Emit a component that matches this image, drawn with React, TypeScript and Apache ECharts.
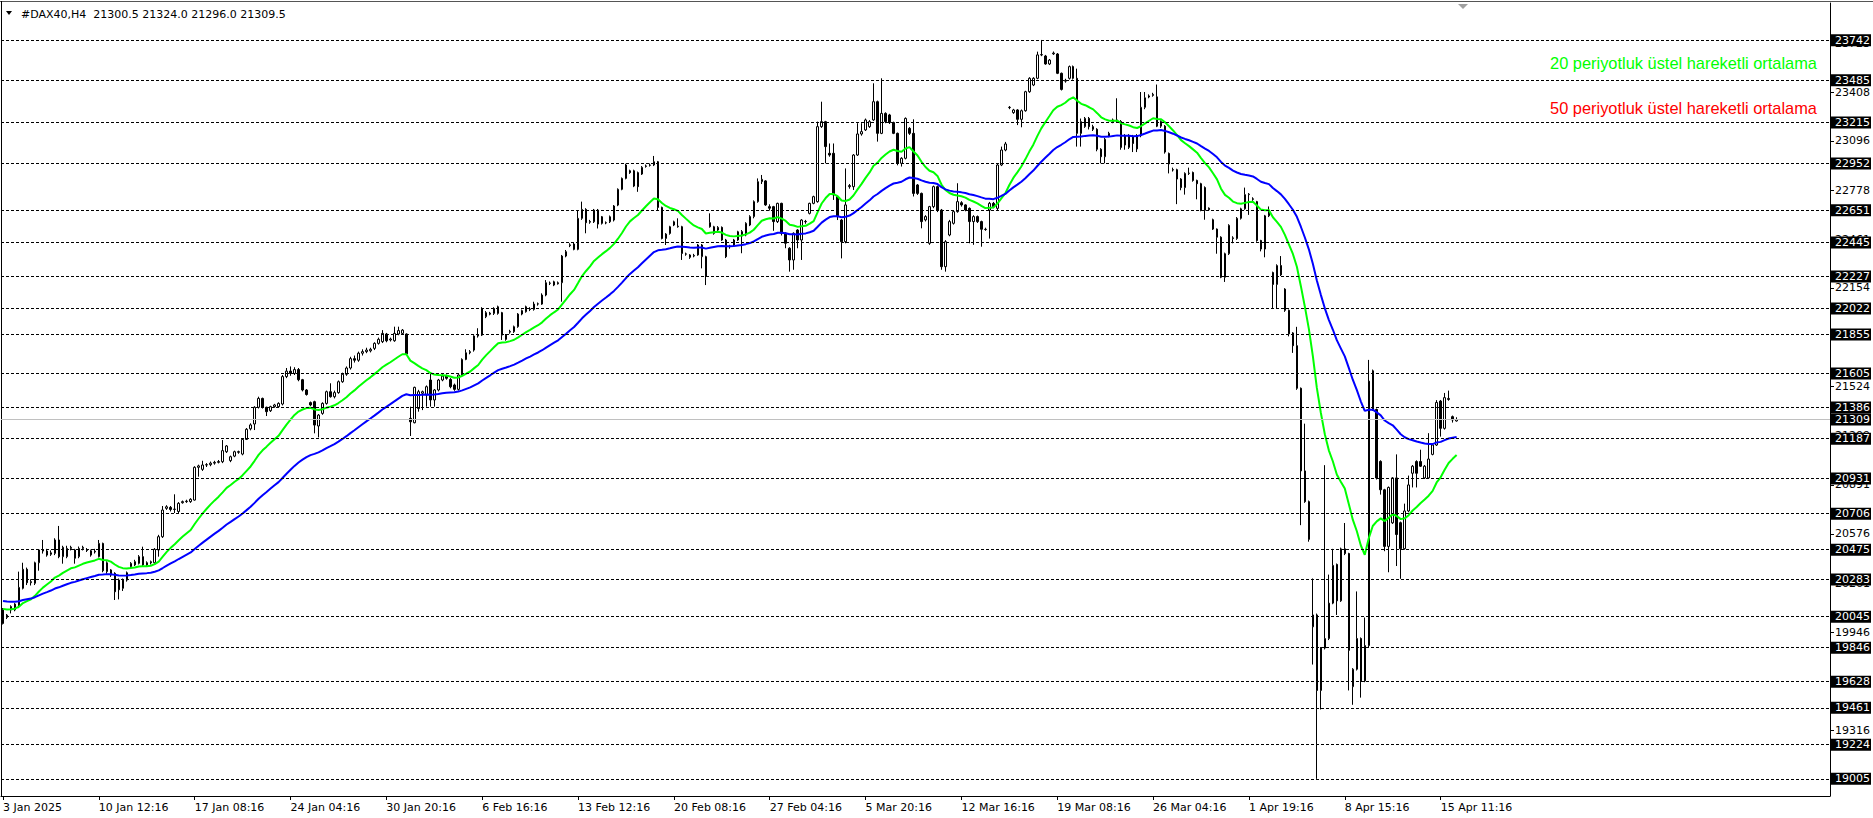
import React, { useEffect, useRef } from "react";
import * as echarts from "echarts";

const opens = [20090,20040,20088,20088,20110,20227,20349,20263,20259,20391,20473,20466,20445,20451,20537,20430,20430,20483,20473,20430,20483,20475,20440,20460,20430,20515,20334,20345,20323,20280,20227,20280,20366,20377,20387,20430,20391,20390,20391,20473,20558,20740,20746,20733,20720,20776,20783,20783,20793,21003,20990,21018,21020,21030,21035,21039,21103,21046,21075,21103,21088,21182,21250,21281,21388,21445,21388,21366,21392,21392,21409,21585,21620,21605,21630,21565,21499,21418,21424,21268,21349,21413,21488,21456,21482,21552,21600,21640,21700,21690,21735,21745,21750,21766,21798,21809,21858,21820,21815,21858,21862,21858,21317,21289,21380,21478,21467,21563,21435,21499,21563,21588,21567,21531,21503,21595,21695,21738,21755,21845,21851,21969,21985,21990,21990,21995,21851,21870,21873,21905,21986,22001,22018,22016,22050,22050,22108,22183,22193,22180,22187,22358,22425,22435,22401,22600,22657,22575,22578,22653,22610,22570,22578,22589,22685,22786,22856,22905,22905,22893,22884,22933,22940,22942,22963,22670,22471,22503,22557,22546,22546,22370,22365,22358,22365,22354,22354,22572,22503,22525,22542,22461,22420,22429,22461,22487,22493,22557,22611,22707,22835,22840,22675,22675,22579,22696,22504,22408,22333,22525,22461,22580,22632,22696,22707,23188,23220,23017,23017,22739,22589,22450,22803,22803,23006,23141,23167,23188,23231,23348,23145,23273,23263,23214,23145,22953,22985,23177,23145,22814,22760,22590,22440,22675,22803,22653,22290,22493,22568,22643,22700,22686,22664,22579,22611,22579,22530,22653,22696,22664,22942,23038,23310,23278,23295,23235,23290,23412,23455,23498,23648,23641,23590,23655,23654,23530,23480,23498,23573,23498,23220,23188,23241,23188,23171,23043,22995,23128,23220,23231,23221,23070,23055,23125,23045,23130,23312,23378,23388,23379,23191,23191,23016,22912,22912,22852,22797,22888,22894,22843,22822,22797,22655,22591,22531,22479,22222,22373,22470,22470,22600,22661,22752,22725,22707,22458,22403,22616,22252,22176,22297,22146,22010,21865,21783,21510,20980,20783,19980,20056,19572,19844,19905,20132,20380,20147,20480,20450,19596,19708,19905,19633,19860,21622,21374,21041,20859,20496,20647,20935,20648,20481,20723,20965,21040,21040,20935,20935,21086,21146,21428,21253,21438,21328,21300.5];
const highs = [20100,20062,20118,20132,20334,20391,20360,20285,20398,20477,20537,20480,20470,20548,20627,20500,20500,20500,20480,20495,20500,20485,20475,20480,20537,20520,20400,20350,20330,20290,20290,20335,20395,20410,20440,20494,20400,20405,20485,20570,20755,20760,20755,20830,20780,20790,20795,20805,21010,21020,21045,21030,21040,21045,21050,21178,21146,21078,21110,21110,21190,21255,21285,21395,21456,21450,21392,21398,21410,21420,21595,21640,21650,21645,21640,21570,21505,21425,21430,21345,21420,21495,21542,21495,21560,21610,21650,21712,21720,21745,21760,21770,21770,21805,21835,21883,21865,21835,21905,21905,21890,21862,21392,21520,21500,21495,21528,21605,21505,21570,21600,21598,21575,21540,21600,21702,21760,21755,21850,21895,22030,22005,22000,22030,22040,22000,21858,21885,21912,21992,22015,22040,22030,22065,22060,22119,22204,22195,22200,22195,22365,22397,22440,22442,22653,22707,22665,22590,22660,22660,22615,22580,22618,22685,22792,22862,22950,22912,22912,22900,22935,22945,22952,23000,22968,22675,22505,22552,22585,22600,22552,22380,22370,22372,22435,22435,22360,22632,22552,22550,22548,22468,22430,22468,22520,22525,22575,22620,22715,22856,22878,22845,22690,22680,22700,22700,22510,22415,22510,22530,22595,22590,22700,22745,23220,23348,23225,23080,23080,22745,22595,22920,22820,23012,23210,23210,23240,23230,23466,23355,23498,23280,23270,23220,23150,22992,23247,23185,23235,22820,22765,22620,22680,22810,22810,22660,22460,22590,22650,22825,22710,22690,22670,22620,22618,22585,22540,22705,22705,22950,23060,23090,23320,23302,23300,23298,23418,23505,23505,23669,23744,23648,23622,23670,23660,23535,23495,23580,23580,23560,23240,23250,23250,23200,23178,23050,23115,23155,23240,23370,23230,23140,23140,23135,23140,23410,23410,23395,23405,23458,23228,23198,23022,22925,22918,22858,22895,22925,22900,22848,22828,22805,22670,22598,22535,22485,22380,22562,22485,22608,22668,22797,22762,22735,22712,22462,22622,22676,22258,22305,22358,22152,22015,21870,21904,21515,21283,20790,20290,20065,19850,21017,20315,20480,20386,20488,20646,20455,19715,20207,19912,20040,21692,21630,21380,21048,20865,20880,20940,21086,20655,20770,20950,21018,21048,21116,21018,21222,21152,21434,21435,21480,21495,21335,21324];
const lows = [19995,20030,20066,20080,20100,20220,20248,20245,20248,20340,20450,20430,20435,20440,20420,20385,20420,20470,20385,20420,20470,20460,20430,20450,20425,20330,20320,20300,20152,20156,20210,20270,20355,20370,20380,20370,20365,20380,20380,20430,20550,20730,20720,20710,20705,20770,20775,20775,20790,20943,20980,21005,21010,21020,21028,21030,21095,21036,21068,21090,21080,21178,21240,21242,21380,21380,21332,21358,21385,21385,21400,21575,21590,21595,21555,21490,21463,21395,21221,21195,21340,21405,21450,21445,21475,21545,21590,21630,21675,21680,21720,21735,21740,21755,21790,21800,21805,21810,21808,21850,21855,21725,21204,21285,21360,21370,21392,21392,21392,21490,21555,21565,21510,21494,21495,21590,21690,21728,21745,21835,21845,21960,21978,21980,21982,21820,21815,21860,21865,21898,21978,21995,22005,22008,22040,22045,22100,22172,22165,22175,22065,22350,22415,22395,22395,22590,22504,22565,22570,22535,22560,22562,22570,22580,22678,22780,22850,22885,22800,22770,22878,22925,22932,22935,22653,22465,22429,22495,22550,22540,22333,22360,22340,22350,22360,22279,22172,22540,22495,22515,22455,22345,22405,22420,22455,22376,22485,22550,22600,22700,22820,22680,22650,22520,22570,22490,22408,22258,22270,22408,22333,22565,22625,22690,22700,23180,22953,22995,22718,22589,22343,22440,22790,22782,23000,23130,23160,23180,23225,23092,23140,23210,23205,23140,22940,22932,22978,23135,22740,22750,22536,22580,22430,22665,22640,22270,22258,22485,22560,22636,22675,22645,22440,22430,22570,22418,22520,22470,22665,22650,22935,23030,23300,23270,23198,23184,23284,23405,23448,23492,23640,23585,23583,23648,23525,23420,23470,23490,23490,23060,23060,23180,23170,23160,23030,22953,22953,23120,23210,23215,23040,23040,23045,23025,23025,23120,23300,23370,23380,23185,23180,23015,22888,22900,22691,22780,22752,22878,22835,22722,22645,22591,22650,22525,22373,22216,22192,22365,22440,22462,22592,22655,22622,22712,22450,22388,22350,22608,22025,22025,22230,22000,21843,21737,21500,20632,20775,20526,19738,19005,19450,19835,19895,20125,20056,20140,20440,19572,19480,19700,19526,19625,19850,21365,20925,20828,20465,20330,20640,20370,20288,20475,20715,20874,20874,21005,20928,20930,21080,21140,21200,21245,21430,21290,21296];
const closes = [20002,20055,20110,20126,20233,20349,20263,20270,20391,20473,20466,20440,20455,20537,20430,20490,20483,20490,20420,20483,20490,20470,20468,20465,20515,20340,20391,20312,20205,20218,20280,20327,20387,20398,20430,20377,20377,20398,20477,20558,20729,20750,20733,20735,20772,20783,20786,20798,21003,21012,21018,21020,21030,21035,21040,21110,21140,21071,21103,21100,21182,21247,21275,21388,21445,21388,21360,21392,21403,21413,21585,21620,21605,21630,21565,21499,21470,21403,21274,21338,21413,21488,21456,21482,21552,21600,21640,21700,21690,21735,21745,21755,21760,21798,21824,21862,21815,21826,21862,21880,21883,21730,21295,21516,21488,21488,21520,21435,21499,21563,21588,21574,21520,21503,21595,21695,21738,21745,21845,21851,22022,21995,21992,22022,22033,21851,21824,21875,21905,21986,22008,22033,22016,22050,22052,22108,22187,22185,22172,22187,22358,22386,22430,22401,22600,22657,22572,22580,22653,22563,22568,22572,22610,22679,22786,22856,22942,22893,22807,22803,22927,22936,22942,22963,22670,22471,22499,22546,22578,22550,22375,22372,22350,22362,22429,22429,22230,22546,22546,22542,22461,22354,22418,22461,22514,22515,22568,22611,22707,22835,22850,22686,22665,22579,22696,22504,22440,22333,22504,22461,22589,22578,22696,22739,23188,23220,23060,23006,22750,22611,22450,22686,22810,23006,23141,23156,23231,23220,23348,23145,23273,23220,23214,23145,22953,22985,23241,23145,22760,22760,22579,22611,22675,22803,22653,22290,22450,22579,22643,22707,22686,22653,22579,22611,22579,22530,22528,22696,22675,22942,23038,23077,23312,23295,23235,23290,23412,23498,23498,23648,23650,23590,23615,23660,23530,23427,23485,23573,23498,23145,23145,23241,23188,23171,23043,22995,23107,23145,23231,23225,23055,23130,23130,23080,23130,23312,23373,23385,23395,23191,23221,23025,22949,22910,22852,22797,22888,22890,22843,22822,22652,22652,22665,22531,22479,22222,22373,22555,22475,22600,22661,22752,22755,22722,22458,22403,22616,22652,22176,22297,22237,22010,21859,21783,21510,20980,20783,20541,20056,19572,19844,19905,20132,20374,20147,20480,20450,19829,19708,19905,19633,19860,21556,21374,20935,20859,20496,20874,20935,20572,20481,20723,20890,21010,20965,21010,21010,21056,21146,21419,21253,21450,21445,21307,21309.5];

const tickLabels = ["3 Jan 2025", "10 Jan 12:16", "17 Jan 08:16", "24 Jan 04:16", "30 Jan 20:16", "6 Feb 16:16", "13 Feb 12:16", "20 Feb 08:16", "27 Feb 04:16", "5 Mar 20:16", "12 Mar 16:16", "19 Mar 08:16", "26 Mar 04:16", "1 Apr 19:16", "8 Apr 15:16", "15 Apr 11:16"];
const levelPrices = [23742, 23485, 23215, 22952, 22651, 22445, 22227, 22022, 21855, 21605, 21386, 21187, 20931, 20706, 20475, 20283, 20045, 19846, 19628, 19461, 19224, 19005];
const scaleLabels = [23723, 23408, 23096, 22778, 22461, 22154, 21839, 21524, 21209, 20891, 20576, 20261, 19946, 19631, 19316, 19001];
const ema20Seed = 20105;
const ema50Seed = 20152;
const legendTexts = ["20 periyotluk üstel hareketli ortalama", "50 periyotluk üstel hareketli ortalama"];
const headerText = "#DAX40,H4  21300.5 21324.0 21296.0 21309.5";

const BARS_PER_LABEL = 24;
const SLOT_COUNT = 458;

function ema(values: number[], period: number, seed: number): number[] {
  const k = 2 / (period + 1);
  let prev = seed;
  return values.map((v) => {
    prev = v * k + prev * (1 - k);
    return Math.round(prev * 10) / 10;
  });
}

export default function App() {
  const ref = useRef<HTMLDivElement>(null);
  useEffect(() => {
    if (!ref.current) return;
    const chart = echarts.init(ref.current, undefined, { renderer: "svg" });
    const xData = Array.from({ length: SLOT_COUNT }, (_, i) => String(i));
    const lastLabelIdx = (tickLabels.length - 1) * BARS_PER_LABEL;
    const showIdx = (i: number) => i % BARS_PER_LABEL === 0 && i <= lastLabelIdx;
    const candleData = opens.map((o, i) => [o, closes[i], lows[i], highs[i]]);
    const ema20 = ema(closes, 20, ema20Seed);
    const ema50 = ema(closes, 50, ema50Seed);
    const bid = closes[closes.length - 1];
    const font = "DejaVu Sans";

    chart.setOption({
      animation: false,
      backgroundColor: "#ffffff",
      grid: { left: 1, right: 41, top: 3, bottom: 22, containLabel: false },
      xAxis: {
        type: "category",
        data: xData,
        boundaryGap: true,
        axisLine: { show: true, lineStyle: { color: "#000", width: 1 } },
        axisTick: { show: true, alignWithLabel: true, interval: (i: number) => showIdx(i), length: 4, lineStyle: { color: "#000" } },
        axisLabel: {
          interval: (i: number) => showIdx(i),
          formatter: (_v: string, i: number) => tickLabels[i / BARS_PER_LABEL] ?? "",
          align: "left",
          color: "#000",
          fontFamily: font,
          fontSize: 11,
          margin: 6,
        },
        splitLine: { show: false },
      },
      yAxis: {
        type: "value",
        position: "right",
        min: 18895,
        max: 23981,
        axisLine: { show: true, lineStyle: { color: "#000", width: 1 } },
        axisTick: { show: true, customValues: scaleLabels, length: 4, lineStyle: { color: "#000" } },
        axisLabel: { show: true, customValues: scaleLabels, color: "#000", fontFamily: font, fontSize: 11, margin: 5, formatter: (v: number) => String(v) },
        splitLine: { show: false },
      },
      series: [
        {
          type: "candlestick",
          data: candleData,
          barWidth: 2,
          itemStyle: { color: "#ffffff", color0: "#000000", borderColor: "#000000", borderColor0: "#000000", borderWidth: 1 },
          emphasis: { disabled: true },
          markLine: {
            silent: true,
            symbol: ["none", "none"],
            lineStyle: { color: "#000", type: [3, 2], width: 1 },
            label: {
              show: true,
              position: "end",
              distance: 1,
              color: "#fff",
              backgroundColor: "#000",
              fontFamily: font,
              fontSize: 11,
              lineHeight: 11,
              padding: [1, 1, 0, 4],
            },
            emphasis: { disabled: true },
            data: [
              ...levelPrices.map((v) => ({ yAxis: v, label: { formatter: String(v) } })),
              { yAxis: bid, lineStyle: { type: "solid", color: "#c0c0c0" }, label: { formatter: String(Math.floor(bid)) } },
            ],
          },
        },
        {
          type: "line",
          name: "EMA20",
          data: ema20,
          showSymbol: false,
          symbol: "none",
          lineStyle: { color: "#00ff00", width: 2 },
          z: 4,
        },
        {
          type: "line",
          name: "EMA50",
          data: ema50,
          showSymbol: false,
          symbol: "none",
          lineStyle: { color: "#0000ff", width: 2 },
          z: 4,
        },
      ],
      graphic: [
        { type: "line", shape: { x1: 0, y1: 1.5, x2: 1873, y2: 1.5 }, style: { stroke: "#555", lineWidth: 1 } },
        { type: "line", shape: { x1: 1.5, y1: 1, x2: 1.5, y2: 796 }, style: { stroke: "#000", lineWidth: 1 } },
        { type: "polygon", shape: { points: [[6, 11], [12, 11], [9, 15]] }, style: { fill: "#000" } },
        { type: "text", x: 21, y: 14, style: { text: headerText, fill: "#000", font: `11px "${font}"`, textAlign: "left", textVerticalAlign: "middle" } },
        { type: "polygon", shape: { points: [[1458, 4], [1468, 4], [1463, 9]] }, style: { fill: "#a0a0a0" } },
        { type: "text", x: 1817, y: 63, style: { text: legendTexts[0], fill: "#00ff00", font: '16.4px "Liberation Sans"', textAlign: "right", textVerticalAlign: "middle" } },
        { type: "text", x: 1817, y: 108, style: { text: legendTexts[1], fill: "#ff0000", font: '16.4px "Liberation Sans"', textAlign: "right", textVerticalAlign: "middle" } },
      ],
    });
    return () => chart.dispose();
  }, []);
  return <div ref={ref} style={{ position: "fixed", left: 0, top: 0, width: 1873, height: 818, background: "#fff" }} />;
}
